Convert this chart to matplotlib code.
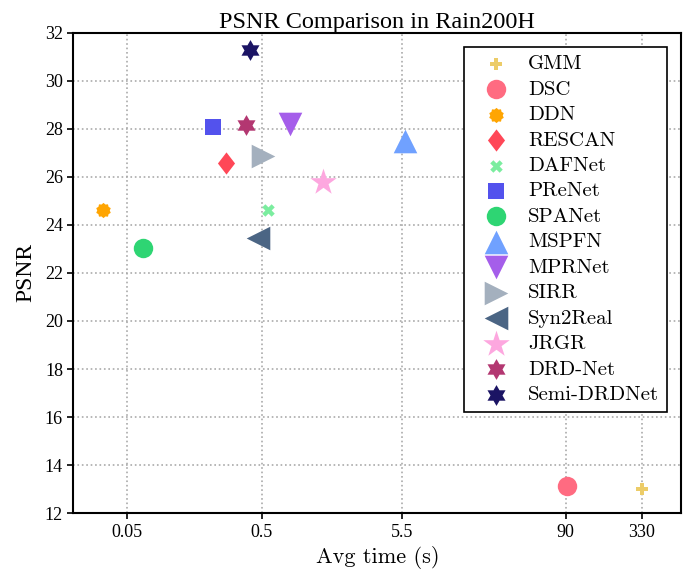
import matplotlib
matplotlib.use("Agg")
import matplotlib.pyplot as plt
from matplotlib.path import Path

# --- data (avg runtime in seconds, PSNR in dB) ---
methods = ["GMM", "DSC", "DDN", "RESCAN", "DAFNet", "PReNet", "SPANet",
           "MSPFN", "MPRNet", "SIRR", "Syn2Real", "JRGR", "DRD-Net", "Semi-DRDNet"]
times = [330, 92, 0.033, 0.27, 0.56, 0.217, 0.066,
         5.8, 0.81, 0.51, 0.47, 1.42, 0.385, 0.41]
psnr = [13.02, 13.14, 24.61, 26.58, 24.64, 28.08, 23.02,
        27.50, 28.20, 26.88, 23.45, 25.77, 28.15, 31.28]
colors = ["#ECCC68", "#FF6B81", "#FFA502", "#FF4757", "#7BED9F", "#5352ED", "#2ED573",
          "#70A1FF", "#A55EEA", "#A4B0BE", "#4B6584", "#FDA7DF", "#B33771", "#1B1464"]

# custom marker shapes
gear = Path.unit_regular_star(10, innerCircle=0.82)
star6 = Path.unit_regular_star(6, innerCircle=0.577)
diamond = Path([(0, 1), (0.77, 0), (0, -1), (-0.77, 0), (0, 1)], closed=True)
markers = ["P", "o", gear, diamond, "X", "s", "o",
           "^", "v", ">", "<", "*", star6, star6]
sizes = [9, 14, 11, 16, 9, 11, 14, 17, 17, 17, 17, 20, 15, 15]

xticks = [0.05, 0.5, 5.5, 90, 330]
yticks = list(range(12, 33, 2))

serif = ["Liberation Serif", "DejaVu Serif"]
cm = ["cmr10", "DejaVu Serif"]

fig = plt.figure(figsize=(6.86, 5.74), dpi=100)
ax = fig.add_axes([0.107, 0.106, 0.886, 0.837])

for m, t, p, c, mk, sz in zip(methods, times, psnr, colors, markers, sizes):
    ax.scatter(t, p, s=sz**2, c=c, marker=mk, label=m, linewidths=0, zorder=3)

ax.set_xscale("log")
ax.set_xlim(0.02, 650)
ax.set_ylim(12, 32)
ax.set_xticks(xticks)
ax.set_xticklabels([str(v) for v in xticks], fontfamily=serif, fontsize=13)
ax.minorticks_off()
ax.set_yticks(yticks)
ax.set_yticklabels([str(v) for v in yticks], fontfamily=serif, fontsize=13)
ax.tick_params(direction="out", length=4, width=1.2, color="black")
ax.grid(True, linestyle=":", color="#aaaaaa", linewidth=1.2)
ax.set_axisbelow(True)
for sp in ax.spines.values():
    sp.set_linewidth(1.5)

ax.set_title("PSNR Comparison in Rain200H", fontfamily=serif, fontsize=17.5, pad=3)
ax.set_xlabel("Avg time (s)", fontfamily=cm, fontsize=16, labelpad=4)
ax.set_ylabel("PSNR", fontfamily=serif, fontsize=17, labelpad=6)

leg = ax.legend(loc="upper right", bbox_to_anchor=(0.9765, 0.971), borderaxespad=0,
                prop={"family": cm, "size": 15}, scatterpoints=1, fancybox=False,
                framealpha=1, edgecolor="black", labelspacing=0.33,
                handlelength=2.3, handletextpad=0.4, borderpad=0.38)
leg.get_frame().set_linewidth(1.2)

fig.savefig("out.png", dpi=100)
